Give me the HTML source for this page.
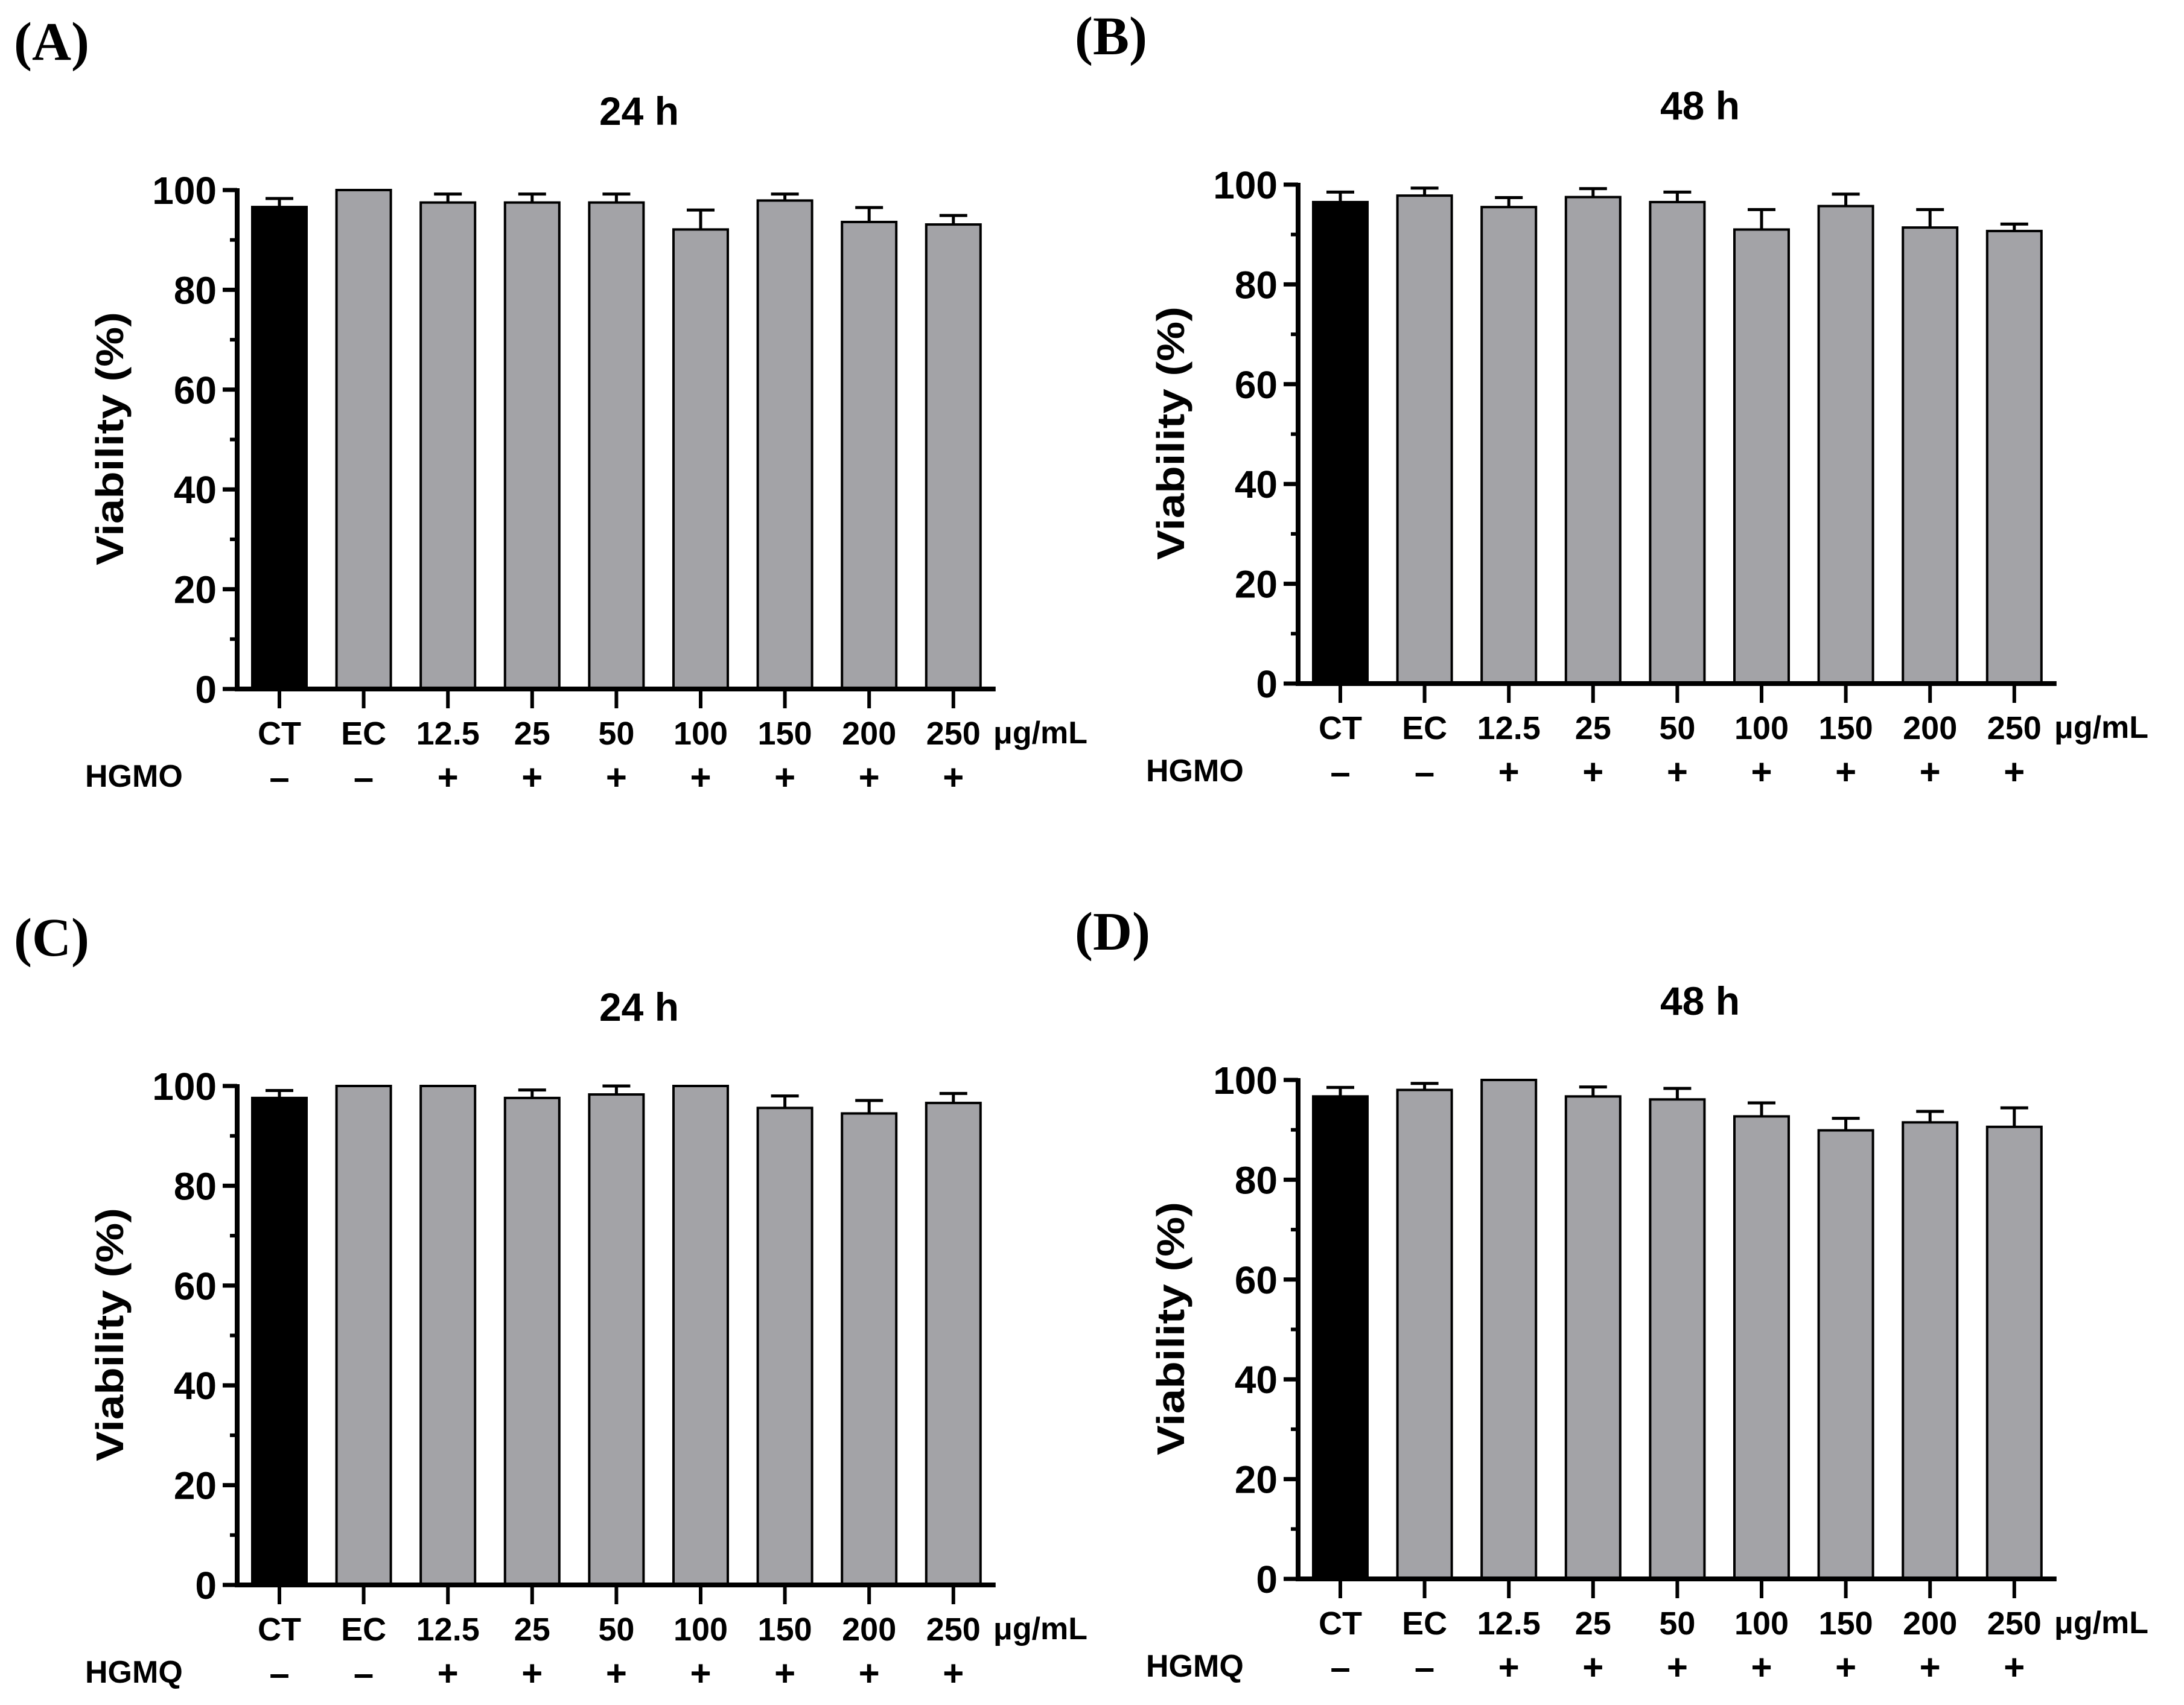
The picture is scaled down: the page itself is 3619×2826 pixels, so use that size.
<!DOCTYPE html>
<html><head><meta charset="utf-8">
<style>
html,body{margin:0;padding:0;background:#fff;}
svg{display:block;}
text{font-family:"Liberation Sans",Arial,sans-serif;font-weight:bold;fill:#000;}
.pl{font-family:"Liberation Serif","Times New Roman",serif;font-weight:bold;}
</style></head>
<body>
<svg id="fig" width="3619" height="2826" viewBox="0 0 3619 2826" xmlns="http://www.w3.org/2000/svg"></svg>
<script>
const categories = ["CT","EC","12.5","25","50","100","150","200","250"];
const signs = ["–","–","+","+","+","+","+","+","+"];
const yTicks = [0,20,40,60,80,100];
const meansA = [96.6,100,97.5,97.5,97.5,92.1,97.9,93.6,93.1];
const errA   = [1.7,0,1.7,1.7,1.7,3.9,1.3,2.9,1.8];
const meansB = [96.5,97.8,95.5,97.5,96.5,91.0,95.7,91.4,90.7];
const errB   = [2.0,1.5,1.9,1.7,2.0,4.0,2.4,3.6,1.4];
const meansC = [97.6,100,100,97.6,98.3,100,95.6,94.5,96.6];
const errC   = [1.5,0,0,1.6,1.7,0,2.4,2.6,1.9];
const meansD = [96.7,98.0,100,96.7,96.1,92.7,89.9,91.5,90.6];
const errD   = [1.8,1.3,0,1.9,2.2,2.7,2.4,2.2,3.8];

const svg = document.getElementById('fig');
const NS = 'http://www.w3.org/2000/svg';
function mk(tag, attrs, parent){
  const e = document.createElementNS(NS, tag);
  for (const k in attrs) e.setAttribute(k, attrs[k]);
  parent.appendChild(e);
  return e;
}
function panel(id, letter, title, drug, ax, y0, means, errs){
  const g = mk('g', {}, svg);
  
  
  const unit = 8.27;
  const yS = v => y0 - v*unit;
  const xS = i => ax + 70 + i*139.6;
  const xEnd = xS(8) + 70;
  const L = mk('text', {x: ax - 370, y: y0 - 1043, 'font-size': 90, class: 'pl'}, g);
  L.textContent = '(' + letter + ')';
  
  
  const T = mk('text', {x: ax + 666, y: y0 - 935, 'font-size': 66, 'text-anchor': 'middle'}, g);
  T.textContent = title;
  
  
  const Y = mk('text', {x: 0, y: 0, 'font-size': 64, 'text-anchor': 'middle', textLength: 420, lengthAdjust: 'spacingAndGlyphs', transform: 'translate(' + (ax - 189) + ',' + (y0 - 415) + ') rotate(-90)'}, g);
  Y.textContent = 'Viability (%)';
  
  
  for (let i = 0; i < categories.length; i++){
    const cx = xS(i), top = yS(means[i]);
    const b = mk('rect', {x: cx - 45, y: top, width: 90, height: y0 - top, fill: i === 0 ? '#000' : '#a3a3a7', stroke: '#000', 'stroke-width': 4}, g);
    
    
    if (errs[i] > 0){
      const et = yS(means[i] + errs[i]);
      const e = mk('path', {d: 'M' + cx + ' ' + top + 'V' + et + 'M' + (cx - 23) + ' ' + et + 'H' + (cx + 23), stroke: '#000', 'stroke-width': 5, fill: 'none'}, g);
      
      
    }
    const t = mk('line', {x1: cx, x2: cx, y1: y0, y2: y0 + 32, stroke: '#000', 'stroke-width': 6}, g);
    
    
    const cl = mk('text', {x: cx, y: y0 + 92, 'font-size': 54, 'text-anchor': 'middle'}, g);
    cl.textContent = categories[i];
    
    
    const sl = mk('text', {x: cx, y: y0 + 167, 'font-size': 60, 'text-anchor': 'middle'}, g);
    sl.textContent = signs[i];
    
    
  }
  const u = mk('text', {x: ax + 1253, y: y0 + 90, 'font-size': 52}, g);
  u.textContent = 'μg/mL';
  
  
  const d = mk('text', {x: ax - 252, y: y0 + 162, 'font-size': 52}, g);
  d.textContent = drug;
  
  
  for (let v = 10; v < 100; v += 20){
    const m = mk('line', {x1: ax - 12, x2: ax, y1: yS(v), y2: yS(v), stroke: '#000', 'stroke-width': 6}, g);
    
    
  }
  yTicks.forEach(v => {
    const m = mk('line', {x1: ax - 24, x2: ax, y1: yS(v), y2: yS(v), stroke: '#000', 'stroke-width': 7}, g);
    
    
    const tl = mk('text', {x: ax - 34, y: yS(v) + 23, 'font-size': 64, 'text-anchor': 'end'}, g);
    tl.textContent = String(v);
    
    
  });
  const axes = mk('path', {d: 'M' + ax + ' ' + (yS(100) - 3) + 'V' + y0 + 'H' + xEnd, stroke: '#000', 'stroke-width': 8, fill: 'none'}, g);
  
  
}
panel('a', 'A', '24 h', 'HGMO', 393, 1142, meansA, errA);
panel('b', 'B', '48 h', 'HGMO', 2151, 1133, meansB, errB);
panel('c', 'C', '24 h', 'HGMQ', 393, 2627, meansC, errC);
panel('d', 'D', '48 h', 'HGMQ', 2151, 2617, meansD, errD);
</script>
</body></html>
